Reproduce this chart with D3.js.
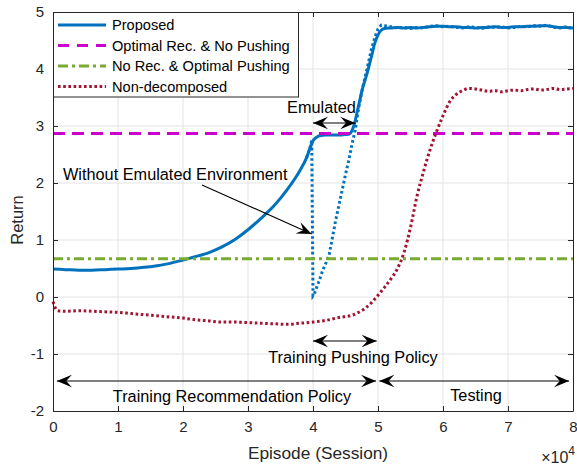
<!DOCTYPE html>
<html>
<head>
<meta charset="utf-8">
<script src="https://cdn.jsdelivr.net/npm/d3@7"></script>
<style>
  html, body { margin: 0; padding: 0; background: #fff; }
  svg { display: block; font-family: "Liberation Sans", Arial, Helvetica, sans-serif; }
</style>
</head>
<body>
<script>
// Episodes are in units of 10^4 sessions.
const xTicks = [0, 1, 2, 3, 4, 5, 6, 7, 8];
const yTicks = [-2, -1, 0, 1, 2, 3, 4, 5];

// Proposed (with emulated environment)
const proposedX = [0, 0.2, 0.4, 0.6, 0.8, 1.0, 1.2, 1.4, 1.6, 1.8, 2.0, 2.2, 2.4, 2.6, 2.8, 3.0, 3.2, 3.4, 3.6, 3.7, 3.8, 3.9, 3.95, 4.0, 4.05, 4.1, 4.2, 4.3, 4.4, 4.5, 4.56, 4.6, 4.64, 4.68, 4.72, 4.76, 4.8, 4.85, 4.9, 4.95, 5.0, 5.05, 5.1, 5.2, 5.3, 5.4, 5.5, 5.6, 5.7, 5.8, 5.9, 6.0, 6.1, 6.2, 6.3, 6.4, 6.5, 6.6, 6.7, 6.8, 6.9, 7.0, 7.1, 7.2, 7.3, 7.4, 7.5, 7.6, 7.7, 7.8, 7.9, 8.0];
const proposedY = [0.49, 0.48, 0.47, 0.47, 0.48, 0.49, 0.50, 0.52, 0.55, 0.59, 0.65, 0.71, 0.78, 0.88, 1.01, 1.18, 1.38, 1.60, 1.88, 2.04, 2.22, 2.44, 2.60, 2.74, 2.80, 2.83, 2.84, 2.84, 2.84, 2.85, 2.86, 2.92, 3.05, 3.25, 3.45, 3.65, 3.80, 4.00, 4.22, 4.45, 4.60, 4.68, 4.71, 4.72, 4.73, 4.72, 4.73, 4.72, 4.73, 4.74, 4.75, 4.75, 4.74, 4.74, 4.73, 4.73, 4.72, 4.73, 4.73, 4.74, 4.73, 4.73, 4.74, 4.74, 4.75, 4.75, 4.76, 4.76, 4.74, 4.73, 4.73, 4.72];

// Without emulated environment
const noEmuX = [3.9, 3.95, 3.98, 4.0, 4.02, 4.06, 4.1, 4.15, 4.2, 4.25, 4.3, 4.35, 4.4, 4.45, 4.5, 4.55, 4.6, 4.65, 4.7, 4.75, 4.8, 4.85, 4.9, 4.95, 5.0, 5.05, 5.1, 5.2, 5.3, 5.4, 5.5, 5.6, 5.7, 5.8, 5.9, 6.0, 6.1, 6.2, 6.3, 6.4, 6.5, 6.6, 6.7, 6.8, 6.9, 7.0, 7.1, 7.2, 7.3, 7.4, 7.5, 7.6, 7.7, 7.8, 7.9, 8.0];
const noEmuY = [2.44, 2.60, 2.75, 0.02, 0.05, 0.18, 0.30, 0.47, 0.60, 0.75, 1.05, 1.35, 1.62, 1.88, 2.15, 2.40, 2.68, 2.93, 3.30, 3.60, 3.85, 4.10, 4.35, 4.55, 4.70, 4.77, 4.76, 4.74, 4.72, 4.73, 4.71, 4.73, 4.72, 4.75, 4.76, 4.74, 4.75, 4.73, 4.72, 4.74, 4.73, 4.71, 4.74, 4.73, 4.74, 4.72, 4.73, 4.75, 4.74, 4.76, 4.75, 4.77, 4.73, 4.72, 4.74, 4.71];

// Baselines
const optimalRecNoPush = 2.87;
const noRecOptimalPush = 0.67;

// Non-decomposed
const nonDecompX = [0, 0.03, 0.08, 0.2, 0.4, 0.6, 0.8, 1.0, 1.2, 1.4, 1.6, 1.8, 2.0, 2.2, 2.4, 2.6, 2.8, 3.0, 3.2, 3.4, 3.6, 3.8, 4.0, 4.2, 4.4, 4.6, 4.7, 4.8, 4.9, 5.0, 5.1, 5.2, 5.3, 5.4, 5.5, 5.6, 5.7, 5.8, 5.9, 6.0, 6.1, 6.2, 6.3, 6.4, 6.5, 6.6, 6.7, 6.8, 6.9, 7.0, 7.1, 7.2, 7.3, 7.4, 7.5, 7.6, 7.7, 7.8, 7.9, 8.0];
const nonDecompY = [-0.08, -0.18, -0.24, -0.25, -0.24, -0.25, -0.26, -0.27, -0.29, -0.31, -0.33, -0.35, -0.37, -0.40, -0.42, -0.44, -0.44, -0.45, -0.46, -0.47, -0.48, -0.46, -0.44, -0.41, -0.36, -0.32, -0.27, -0.20, -0.10, 0.03, 0.17, 0.32, 0.50, 0.78, 1.22, 1.77, 2.20, 2.58, 2.90, 3.18, 3.42, 3.55, 3.62, 3.66, 3.65, 3.63, 3.61, 3.62, 3.60, 3.62, 3.63, 3.62, 3.64, 3.65, 3.63, 3.64, 3.66, 3.64, 3.65, 3.66];

const legendLabels = ["Proposed", "Optimal Rec. & No Pushing", "No Rec. & Optimal Pushing", "Non-decomposed"];

const W = 577, H = 466;
const svg = d3.select("body").append("svg").attr("width", W).attr("height", H);

const x = d3.scaleLinear().domain([0, 8]).range([53, 573]);
const y = d3.scaleLinear().domain([-2, 5]).range([411, 12]);

const axisColor = "#262626";
const colors = { blue: "#0072BD", magenta: "#CC00CC", green: "#77AC30", red: "#A2142F" };

// grid
const grid = svg.append("g").attr("stroke", "#e3e3e3").attr("stroke-width", 1);
grid.selectAll("line.vx").data(xTicks.slice(1, -1)).join("line")
  .attr("x1", d => x(d)).attr("x2", d => x(d)).attr("y1", y(-2)).attr("y2", y(5));
grid.selectAll("line.hy").data(yTicks.slice(1, -1)).join("line")
  .attr("x1", x(0)).attr("x2", x(8)).attr("y1", d => y(d)).attr("y2", d => y(d));

// series
const line = d3.line().x(d => x(d[0])).y(d => y(d[1])).curve(d3.curveMonotoneX);
const zip = (a, b) => a.map((v, i) => [v, b[i]]);

svg.append("path").datum(zip(proposedX, proposedY)).attr("d", line)
  .attr("fill", "none").attr("stroke", colors.blue).attr("stroke-width", 3);
svg.append("path").datum(zip(noEmuX, noEmuY)).attr("d", d3.line().x(d => x(d[0])).y(d => y(d[1])))
  .attr("fill", "none").attr("stroke", colors.blue).attr("stroke-width", 3)
  .attr("stroke-dasharray", "2.6,2.6");
svg.append("line").attr("x1", x(0)).attr("x2", x(8))
  .attr("y1", y(optimalRecNoPush)).attr("y2", y(optimalRecNoPush))
  .attr("stroke", colors.magenta).attr("stroke-width", 3).attr("stroke-dasharray", "12,7");
svg.append("line").attr("x1", x(0)).attr("x2", x(8))
  .attr("y1", y(noRecOptimalPush)).attr("y2", y(noRecOptimalPush))
  .attr("stroke", colors.green).attr("stroke-width", 3).attr("stroke-dasharray", "10,4,3,4");
svg.append("path").datum(zip(nonDecompX, nonDecompY)).attr("d", line)
  .attr("fill", "none").attr("stroke", colors.red).attr("stroke-width", 3)
  .attr("stroke-dasharray", "2.6,2.6");

// axes (ticks pointing inward on all four sides)
function styleAxis(g) {
  g.select(".domain").attr("stroke", axisColor).attr("stroke-width", 1);
  g.selectAll(".tick line").attr("stroke", axisColor);
  g.selectAll(".tick text").attr("fill", axisColor).attr("font-size", 15)
    .attr("font-family", "Liberation Sans, Arial, sans-serif");
}
svg.append("g").attr("transform", `translate(0,${y(-2)})`)
  .call(d3.axisBottom(x).tickValues(xTicks).tickFormat(d => String(d)).tickSizeInner(-5).tickSizeOuter(0).tickPadding(10))
  .call(styleAxis);
svg.append("g").attr("transform", `translate(0,${y(5)})`)
  .call(d3.axisTop(x).tickValues(xTicks).tickFormat("").tickSizeInner(-5).tickSizeOuter(0))
  .call(styleAxis);
svg.append("g").attr("transform", `translate(${x(0)},0)`)
  .call(d3.axisLeft(y).tickValues(yTicks).tickFormat(d => String(d)).tickSizeInner(-5).tickSizeOuter(0).tickPadding(9))
  .call(styleAxis);
svg.append("g").attr("transform", `translate(${x(8)},0)`)
  .call(d3.axisRight(y).tickValues(yTicks).tickFormat("").tickSizeInner(-5).tickSizeOuter(0))
  .call(styleAxis);

// axis labels
svg.append("text").attr("transform", `translate(23,220) rotate(-90)`)
  .attr("text-anchor", "middle").attr("font-size", 16.5).attr("fill", axisColor).text("Return");
svg.append("text").attr("x", (x(0) + x(8)) / 2 + 5).attr("y", 459)
  .attr("text-anchor", "middle").attr("font-size", 17.3).attr("fill", axisColor).text("Episode (Session)");
const expo = svg.append("text").attr("x", 575).attr("y", 463).attr("text-anchor", "end")
  .attr("font-size", 16).attr("fill", axisColor);
expo.append("tspan").text("×10");
expo.append("tspan").attr("dy", -8).attr("font-size", 12).text("4");

// arrows
function arrowHead(g, tx, ty, ang) {
  const L = 15, hw = 6.2, notch = 0.62 * L;
  const p = [[0, 0], [-L, hw], [-notch, 0], [-L, -hw]].map(([a, b]) => [
    tx + a * Math.cos(ang) - b * Math.sin(ang),
    ty + a * Math.sin(ang) + b * Math.cos(ang)
  ]);
  g.append("path").attr("d", "M" + p.map(q => q.join(",")).join("L") + "Z").attr("fill", "#000");
}
function arrow(x1, y1, x2, y2, both) {
  const g = svg.append("g");
  g.append("line").attr("x1", x1).attr("y1", y1).attr("x2", x2).attr("y2", y2)
    .attr("stroke", "#000").attr("stroke-width", 1.1);
  const ang = Math.atan2(y2 - y1, x2 - x1);
  arrowHead(g, x2, y2, ang);
  if (both) arrowHead(g, x1, y1, ang + Math.PI);
}
const annoFont = 16.3;
function label(txt, cx, by) {
  svg.append("text").attr("x", cx).attr("y", by).attr("text-anchor", "middle")
    .attr("font-size", annoFont).attr("fill", "#000").text(txt);
}

arrow(x(4.0), 123, x(4.65), 123, true);
label("Emulated", 321.5, 113);

svg.append("text").attr("x", 63).attr("y", 180).attr("font-size", annoFont).attr("fill", "#000")
  .text("Without Emulated Environment");
arrow(202, 185, x(3.98), 234, false);

arrow(x(4.0), 341, x(4.98), 341, true);
label("Training Pushing Policy", 353, 363);

arrow(x(0.06), 381, x(4.97), 381, true);
label("Training Recommendation Policy", 232, 402);

arrow(x(5.02), 381, x(7.94), 381, true);
label("Testing", 476, 401);

// legend
const lg = svg.append("g");
lg.append("rect").attr("x", 53.5).attr("y", 12.5).attr("width", 245).attr("height", 84.5)
  .attr("fill", "#fff").attr("stroke", axisColor).attr("stroke-width", 1);
const legendStyles = [
  { c: colors.blue, dash: null },
  { c: colors.magenta, dash: "11,8" },
  { c: colors.green, dash: "10,4,3,4" },
  { c: colors.red, dash: "2.6,2.6" }
];
const rowY = [25, 45.5, 66, 86.5];
legendLabels.forEach((t, i) => {
  const s = legendStyles[i];
  const ln = lg.append("line").attr("x1", 58).attr("x2", 106).attr("y1", rowY[i]).attr("y2", rowY[i])
    .attr("stroke", s.c).attr("stroke-width", 3);
  if (s.dash) ln.attr("stroke-dasharray", s.dash);
  lg.append("text").attr("x", 112).attr("y", rowY[i]).attr("dy", "0.36em")
    .attr("font-size", 14.6).attr("fill", "#000").text(t);
});
</script>
</body>
</html>
